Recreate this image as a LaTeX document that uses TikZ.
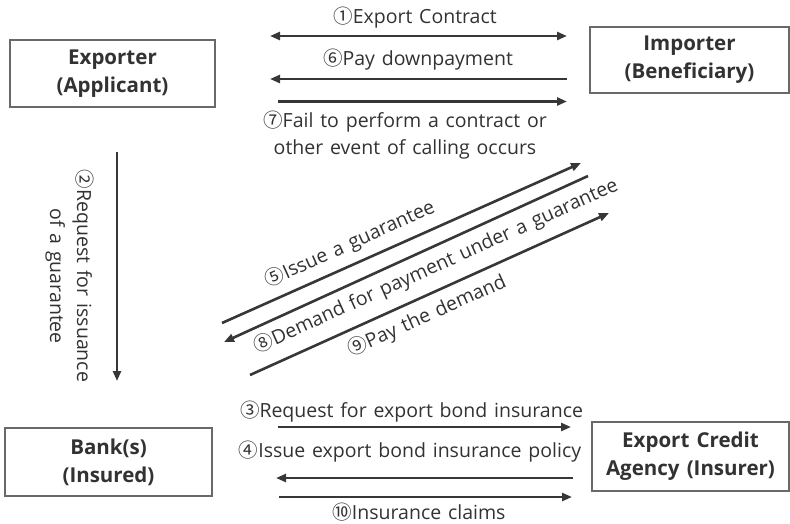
\documentclass[tikz,border=0pt]{standalone}
\usepackage{fontspec}
\setmainfont{Open Sans}[WordSpace=1.35]
\newfontfamily\cjk{Noto Sans CJK KR}
\usetikzlibrary{arrows.meta}
\definecolor{ink}{RGB}{50,50,50}
\definecolor{wire}{RGB}{55,55,55}
\definecolor{frame}{RGB}{105,105,105}
\newcommand{\cn}[1]{{\cjk #1}}
\tikzset{
  party/.style={draw=frame, line width=1.1pt, fill=white, minimum width=#1, inner sep=0pt,
    font=\fontsize{20.5}{28}\selectfont\bfseries, text=ink, align=center},
  lbl/.style={font=\fontsize{19.5}{27}\selectfont, text=ink, inner sep=0pt, align=center},
  flow/.style={draw=wire, line width=2.6pt, -{Triangle[length=10pt,width=8pt]}},
}
\begin{document}
\begin{tikzpicture}[x=1pt,y=-1pt]
\useasboundingbox (0,0) rectangle (790,523);

% parties
\node[party=205pt, minimum height=67pt] (exp) at (112.5,73.5) {Exporter\\(Applicant)};
\node[party=199pt, minimum height=66pt] (imp) at (689.5,60) {Importer\\(Beneficiary)};
\node[party=207pt, minimum height=68pt] (bank) at (108.5,462) {Bank(s)\\(Insured)};
\node[party=197pt, minimum height=69pt] (eca) at (690.5,456.5) {Export Credit\\Agency (Insurer)};

% end points of the flows
\coordinate (c1a) at (270,36);   \coordinate (c1b) at (567,36);
\coordinate (c6a) at (567,79);   \coordinate (c6b) at (270,79);
\coordinate (c7a) at (278,101.5);\coordinate (c7b) at (567,101.5);
\coordinate (c2a) at (117,152);  \coordinate (c2b) at (117,381);
\coordinate (c5a) at (222,323);  \coordinate (c5b) at (581,163);
\coordinate (c8a) at (588,176);  \coordinate (c8b) at (224,342);
\coordinate (c9a) at (250,375);  \coordinate (c9b) at (609,213);
\coordinate (c3a) at (278,427);  \coordinate (c3b) at (571,427);
\coordinate (c4a) at (573,478);  \coordinate (c4b) at (276,478);
\coordinate (c10a) at (279,497); \coordinate (c10b) at (572,497);

% flows
\draw[flow, {Triangle[length=10pt,width=8pt]}-{Triangle[length=10pt,width=8pt]}] (c1a) -- (c1b);
\draw[flow] (c6a) -- (c6b);
\draw[flow] (c7a) -- (c7b);
\draw[flow] (c2a) -- (c2b);
\draw[flow] (c5a) -- (c5b);
\draw[flow] (c8a) -- (c8b);
\draw[flow] (c9a) -- (c9b);
\draw[flow] (c3a) -- (c3b);
\draw[flow] (c4a) -- (c4b);
\draw[flow] (c10a) -- (c10b);

% labels
\node[lbl] (t1) at (415,18) {\cn{①}Export Contract};
\node[lbl] (t6) at (418,60) {\cn{⑥}Pay downpayment};
\node[lbl] (t7) at (405,135) {\cn{⑦}Fail to perform a contract or\\other event of calling occurs};
\node[lbl, rotate=-90] (t2) at (69.5,276) {\cn{②}Request for issuance\\of a guarantee};
\node[lbl, rotate=24.3] (t5) at (350,244) {\cn{⑤}Issue a guarantee};
\node[lbl, rotate=24.3] (t8) at (436,266) {\cn{⑧}Demand for payment under a guarantee};
\node[lbl, rotate=24.3] (t9) at (427,316) {\cn{⑨}Pay the demand};
\node[lbl] (t3) at (411.5,412) {\cn{③}Request for export bond insurance};
\node[lbl] (t4) at (410,452) {\cn{④}Issue export bond insurance policy};
\node[lbl] (t10) at (419,512) {\cn{⑩}Insurance claims};
\end{tikzpicture}
\end{document}
